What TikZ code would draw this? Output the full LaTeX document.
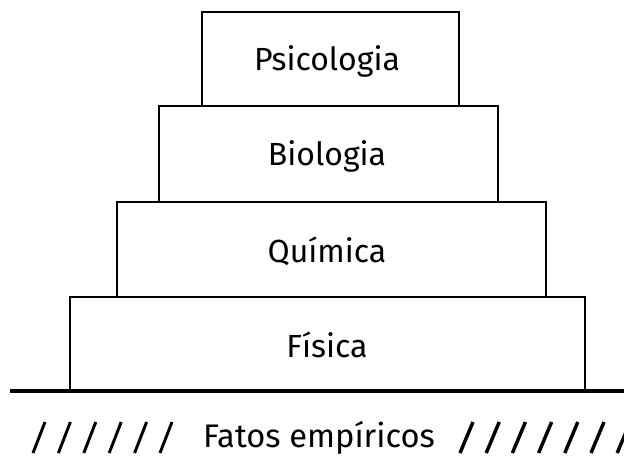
\documentclass[tikz,border=0pt]{standalone}
\usepackage{fontspec}
\setmainfont{Fira Sans}
\usetikzlibrary{calc}
\newcommand{\lw}{2.2pt}
\tikzset{
  level/.style={draw=black,line width=\lw},
  leveltext/.style={anchor=base,inner sep=0pt,font=\fontsize{24}{28}\selectfont},
  hatch/.style={line width=\lw}
}

\begin{document}
\begin{tikzpicture}[x=0.75pt,y=-0.75pt]
\useasboundingbox (0,0) rectangle (624,457);
\coordinate (g1) at (10,391);
\coordinate (g2) at (624,391);
% the four levels, top to bottom
\coordinate (psi1) at (202,12);  \coordinate (psi2) at (459,106);
\coordinate (bio1) at (159,106); \coordinate (bio2) at (498,202);
\coordinate (qui1) at (117,202); \coordinate (qui2) at (546,297);
\coordinate (fis1) at (70,297);  \coordinate (fis2) at (585,391);
\foreach \h in {psi,bio,qui,fis}{
\draw[level] (\h1) rectangle (\h2);
}
\foreach \h/\b/\t in {psi/70/Psicologia,bio/165/Biologia,qui/262/Química,fis/357/Física}{
\node[leveltext] (t\h) at (327,\b) {\t};
}
\draw[line width=2.6pt] (g1) -- (g2);
\node[leveltext,font=\fontsize{24.5}{28}\selectfont] (fatos) at (319,447) {Fatos empíricos};
\foreach \i in {0,...,5}{
\draw[hatch] (33+25.4*\i,453) -- ++(12,-31);
}
\foreach \i in {0,...,6}{
\draw[hatch,line width=2.6pt] (460+26.2*\i,453) -- ++(13,-31);
}
\end{tikzpicture}
\end{document}
